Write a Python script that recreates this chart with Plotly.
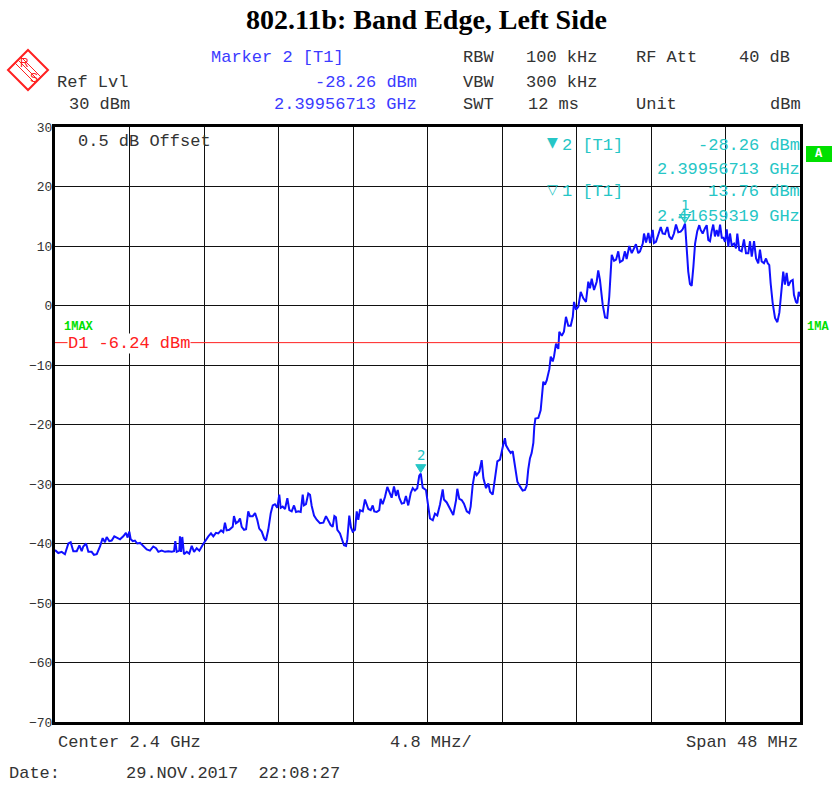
import plotly.graph_objects as go

# ---------------- data ----------------
center_ghz = 2.4
span_mhz = 48.0
ref_level = 30
y_min = -70
display_line_dbm = -6.24

marker2_offset_mhz = 23.567   # 2.39956713 GHz relative to 2.376 GHz start
marker2_level = -28.26
marker1_offset_mhz = 40.593   # 2.41659319 GHz
marker1_level = 13.76

freq_offset_mhz = [
    0.00, 0.21, 0.43, 0.64, 0.86, 1.01, 1.18, 1.40, 1.57, 1.72, 1.82, 2.00, 2.15, 2.36, 2.51, 2.69,
    2.90, 3.07, 3.22, 3.33, 3.50, 3.65, 3.82, 3.98, 4.19, 4.40, 4.57, 4.68, 4.79, 4.88, 5.01, 5.15,
    5.30, 5.48, 5.69, 5.91, 6.12, 6.33, 6.51, 6.66, 6.87, 7.09, 7.30, 7.52, 7.67, 7.75, 7.84, 8.01,
    8.05, 8.12, 8.20, 8.31, 8.49, 8.65, 8.81, 8.96, 9.13, 9.30, 9.52, 9.66, 9.88, 10.05, 10.20, 10.37,
    10.52, 10.70, 10.84, 10.95, 11.06, 11.23, 11.45, 11.53, 11.66, 11.81,
    11.92, 12.03, 12.18, 12.31, 12.45, 12.56, 12.74, 12.89, 13.03, 13.16, 13.32, 13.47, 13.59, 13.74,
    13.90, 14.03, 14.17, 14.32, 14.45, 14.54, 14.67, 14.82, 14.97, 15.10, 15.25, 15.40, 15.53, 15.68,
    15.83, 15.96, 16.04, 16.17, 16.32, 16.43, 16.54, 16.69, 16.86, 17.07, 17.29, 17.46, 17.61, 17.76,
    17.89, 18.00, 18.10, 18.19, 18.36, 18.49, 18.62, 18.75, 18.83, 18.96, 19.07, 19.18, 19.33, 19.44,
    19.54, 19.65, 19.83, 19.97, 20.08, 20.19, 20.34, 20.47, 20.57, 20.73, 20.89, 20.98, 21.11, 21.26,
    21.41, 21.54, 21.69, 21.84, 21.97, 22.08, 22.18, 22.34, 22.49, 22.61, 22.76, 22.92, 23.05, 23.19,
    23.34, 23.47, 23.567, 23.69, 23.90, 24.05, 24.16, 24.34, 24.48, 24.63, 24.81, 24.98, 25.06, 25.24,
    25.40, 25.56, 25.66, 25.84, 25.92, 26.05, 26.20, 26.35, 26.53, 26.69, 26.78, 26.91, 27.06, 27.17,
    27.34, 27.49, 27.60, 27.77, 27.92, 28.03, 28.20, 28.35, 28.50, 28.67, 28.78, 28.88, 28.99, 29.06,
    29.21, 29.36, 29.49, 29.64, 29.79, 29.96, 30.13, 30.28, 30.39, 30.49, 30.60, 30.71, 30.82, 30.88,
    30.95, 31.14, 31.29, 31.46, 31.57, 31.68, 31.85, 31.94, 32.07, 32.15, 32.28, 32.43, 32.49, 32.65,
    32.79, 32.92, 33.07, 33.23, 33.36, 33.44, 33.57, 33.72, 33.87, 34.04, 34.21, 34.36, 34.47, 34.58,
    34.73, 34.90, 35.00, 35.11, 35.29, 35.44, 35.58, 35.71, 35.87, 36.02, 36.15, 36.29, 36.40, 36.58,
    36.72, 36.83, 37.00, 37.16, 37.26, 37.43, 37.58, 37.69, 37.87, 37.95, 38.08, 38.23, 38.34, 38.51,
    38.59, 38.72, 38.87, 39.03, 39.15, 39.30, 39.45, 39.58, 39.73, 39.88, 40.01, 40.16, 40.31, 40.44,
    40.593, 40.70, 40.80, 40.91, 41.02, 41.13, 41.24, 41.38, 41.51, 41.60, 41.73, 41.88, 41.99, 42.09,
    42.20, 42.31, 42.41, 42.52, 42.63, 42.74, 42.85, 42.96, 43.06, 43.17, 43.28, 43.38, 43.49, 43.60,
    43.75, 43.88, 43.96, 44.09, 44.24, 44.39, 44.52, 44.67, 44.78, 44.89, 45.04, 45.17, 45.31, 45.42,
    45.53, 45.68, 45.81, 45.92, 46.02, 46.11, 46.24, 46.39, 46.54, 46.67, 46.82, 46.92, 47.03, 47.14,
    47.25, 47.40, 47.53, 47.61, 47.74, 47.83, 47.92, 48.00,
]

level_dbm = [
    -41.1, -41.6, -41.4, -41.8, -40.0, -39.8, -41.3, -41.3, -40.3, -41.3, -40.5, -40.0, -41.4, -41.4, -41.9, -41.8,
    -40.5, -39.1, -39.8, -38.9, -39.6, -39.5, -38.8, -39.0, -39.3, -38.8, -38.2, -39.0, -38.0, -39.3, -39.6, -39.5,
    -40.0, -39.9, -40.5, -41.0, -41.2, -40.5, -40.8, -41.4, -41.2, -41.4, -41.3, -41.4, -41.3, -39.6, -41.4, -41.2,
    -38.8, -41.4, -38.9, -41.8, -41.4, -41.7, -40.4, -41.4, -40.8, -41.2, -40.2, -39.6, -38.8, -38.3, -38.8, -38.2,
    -38.3, -37.8, -38.1, -36.5, -37.8, -37.7, -37.2, -35.4, -36.6, -36.3,
    -35.8, -37.2, -37.7, -37.6, -34.6, -35.4, -35.4, -34.9, -36.0, -37.5, -38.0, -39.1, -39.5, -37.7,
    -34.9, -33.6, -33.4, -34.0, -31.8, -34.0, -33.8, -34.2, -32.4, -34.4, -34.6, -33.6, -34.7, -34.6,
    -34.7, -31.8, -33.6, -33.4, -31.6, -31.8, -33.7, -35.3, -36.0, -36.6, -36.5, -35.4, -36.3, -36.9,
    -37.2, -35.4, -35.6, -37.7, -38.3, -39.4, -40.3, -40.4, -39.4, -35.3, -37.3, -38.0, -37.7, -34.6,
    -36.0, -34.4, -34.6, -32.6, -33.6, -34.2, -34.4, -33.6, -34.6, -34.7, -34.4, -32.5, -33.4, -32.2,
    -30.5, -31.5, -32.3, -30.4, -32.0, -31.0, -32.3, -33.3, -33.2, -32.0, -33.6, -31.5, -30.7, -31.1,
    -30.7, -28.6, -28.26, -30.6, -31.0, -33.8, -35.8, -36.1, -35.0, -35.3, -33.4, -30.9, -32.6, -33.1,
    -33.9, -34.9, -35.2, -32.7, -30.8, -32.5, -32.7, -33.3, -34.6, -34.9, -33.8, -30.2, -27.9, -28.5,
    -27.9, -26.0, -29.0, -30.7, -29.9, -31.3, -31.8, -29.0, -26.2, -25.9, -24.2, -23.4, -22.3, -23.5,
    -24.2, -24.8, -24.5, -27.1, -29.6, -30.4, -31.1, -31.0, -30.3, -27.6, -25.7, -24.8, -23.1, -20.4,
    -19.0, -18.9, -17.6, -12.8, -13.3, -12.6, -10.7, -8.6, -9.4, -8.6, -6.4, -7.3, -4.4, -5.1,
    -4.4, -1.9, -3.4, -3.4, -1.9, 0.6, -0.7, -0.2, 2.3, 1.2, 0.6, 4.0, 2.9, 4.5,
    2.6, 4.0, 5.9, 4.3, 0.1, -2.0, -2.1, 1.5, 8.5, 7.5, 7.7, 9.1, 7.3, 7.6,
    9.1, 7.8, 10.0, 8.8, 9.3, 10.3, 8.8, 9.1, 10.4, 12.1, 10.6, 12.2, 10.5, 12.7,
    10.5, 10.7, 11.9, 13.2, 12.1, 12.0, 13.2, 11.6, 11.1, 12.1, 13.6, 12.3, 12.4, 12.8,
    13.76, 8.8, 5.7, 3.6, 3.3, 6.5, 10.4, 12.5, 13.5, 12.7, 12.1, 13.0, 13.5, 11.0,
    10.8, 12.5, 13.6, 11.6, 12.7, 11.6, 13.6, 11.4, 11.4, 10.7, 12.8, 9.9, 12.1, 10.1,
    10.4, 9.6, 12.1, 9.3, 9.1, 11.1, 8.8, 8.8, 10.8, 8.2, 10.8, 7.9, 7.1, 9.4,
    7.4, 7.1, 7.9, 7.1, 6.8, 3.7, 0.4, -2.1, -2.8, -1.2, 3.0, 5.7, 3.5, 5.5,
    3.3, 4.1, 4.3, 1.8, 0.6, 0.4, 2.3, 1.5,
]

# ---------------- layout helpers ----------------
W, H = 833, 785
L, R, T, B = 55, 800, 127, 722


def fx(px):
    return (px - L) / (R - L)


def fy(py):
    return (B - py) / (B - T)


MONO = "Liberation Mono, Courier New, monospace"
DARK = "#333333"
BLUE = "#3b3bff"
CYAN = "#26c6c6"
GREEN = "#00e000"
FS = 17

fig = go.Figure()

fig.add_trace(go.Scatter(
    x=freq_offset_mhz, y=level_dbm, mode="lines",
    line=dict(color="#1010ff", width=2),
    hoverinfo="skip", showlegend=False,
))

# display line D1
fig.add_shape(type="line", xref="x", yref="y", x0=0, x1=span_mhz,
              y0=display_line_dbm, y1=display_line_dbm,
              line=dict(color="#ff2020", width=1))

ann = []


def text(px, py, s, color=DARK, size=FS, anchor="left", bold=False, bg=None, family=MONO):
    if bold:
        s = "<b>" + s + "</b>"
    d = dict(xref="paper", yref="paper", x=fx(px), y=fy(py), text=s, showarrow=False,
             xanchor=anchor, yanchor="middle", font=dict(family=family, size=size, color=color))
    if bg:
        d["bgcolor"] = bg
        d["borderpad"] = 0
    ann.append(d)


# Title
ann.append(dict(xref="paper", yref="paper", x=fx(426), y=fy(20), text="<b>802.11b: Band Edge, Left Side</b>",
                showarrow=False, xanchor="center", yanchor="middle",
                font=dict(family="Liberation Serif, Times New Roman, serif", size=28, color="#000")))

# Header
text(209, 58, "Marker 2 [T1]", BLUE)
text(419, 82, f"{marker2_level:.2f} dBm", BLUE, anchor="right")
text(419, 105, "2.39956713 GHz", BLUE, anchor="right")
text(55, 82, "Ref Lvl")
text(67, 105, f"{ref_level} dBm")
text(461, 58, "RBW")
text(461, 82, "VBW")
text(461, 105, "SWT")
text(524, 58, "100 kHz")
text(524, 82, "300 kHz")
text(581, 105, "12 ms", anchor="right")
text(634, 58, "RF Att")
text(634, 105, "Unit")
text(792, 58, "40 dB", anchor="right")
text(803, 105, "dBm", anchor="right")

# Inside plot texts
text(76, 141, "0.5 dB Offset")
text(62, 327, "1MAX", GREEN, size=12, bold=True)
text(67, 343, f"D1 {display_line_dbm:.2f} dBm", "#ff2020", bg="white")
text(545, 142, "▼", CYAN, size=14, family="DejaVu Sans")
text(560, 145, "2 [T1]", CYAN)
text(802, 145, f"{marker2_level:.2f} dBm", CYAN, anchor="right")
text(802, 169, "2.39956713 GHz", CYAN, anchor="right")
text(545, 189, "▽", CYAN, size=14, family="DejaVu Sans")
text(560, 192, "1 [T1]", CYAN)
text(802, 192, f"{marker1_level:.2f} dBm", CYAN, anchor="right")
text(802, 216, "2.41659319 GHz", CYAN, anchor="right")

# Right side
text(805, 327, "1MA", GREEN, size=12, bold=True)
fig.add_shape(type="rect", xref="paper", yref="paper", x0=fx(806), x1=fx(832), y0=fy(162), y1=fy(146),
              fillcolor=GREEN, line=dict(width=0))
text(819, 154, "A", "white", size=12, anchor="center", bold=True)

# Bottom
text(56, 742, f"Center {center_ghz} GHz")
text(388, 742, f"{span_mhz / 10:.1f} MHz/")
text(800, 742, f"Span {span_mhz:.0f} MHz", anchor="right")
text(7, 773, "Date:")
text(124, 773, "29.NOV.2017  22:08:27")

# Marker triangles on the trace (pixel-sized shapes anchored at marker data points)
tri = "M -5 9 L 5 9 L 0 1 Z"
fig.add_shape(type="path", xref="x", yref="y", xsizemode="pixel", ysizemode="pixel",
              xanchor=marker2_offset_mhz, yanchor=marker2_level, path=tri,
              fillcolor=CYAN, line=dict(color=CYAN, width=1))
fig.add_shape(type="path", xref="x", yref="y", xsizemode="pixel", ysizemode="pixel",
              xanchor=marker1_offset_mhz, yanchor=marker1_level, path=tri,
              fillcolor="rgba(0,0,0,0)", line=dict(color=CYAN, width=1.5))
ann.append(dict(xref="x", yref="y", x=marker2_offset_mhz, y=marker2_level, text="2", showarrow=False,
                xanchor="center", yanchor="bottom", yshift=9,
                font=dict(family="DejaVu Sans Mono", size=14, color=CYAN)))
ann.append(dict(xref="x", yref="y", x=marker1_offset_mhz, y=marker1_level, text="1", showarrow=False,
                xanchor="center", yanchor="bottom", yshift=9,
                font=dict(family="DejaVu Sans Mono", size=14, color=CYAN)))

# R&S logo
cx, cy, hw = 28, 70, 20
diamond = (f"M {fx(cx)} {fy(cy - hw)} L {fx(cx + hw)} {fy(cy)} L {fx(cx)} {fy(cy + hw)} "
           f"L {fx(cx - hw)} {fy(cy)} Z")
fig.add_shape(type="path", xref="paper", yref="paper", path=diamond, line=dict(color="#ff2020", width=2))
for d in (-3, 0, 3):
    fig.add_shape(type="line", xref="paper", yref="paper",
                  x0=fx(cx - 10 + d), y0=fy(cy - 10 - d), x1=fx(cx + 10 + d), y1=fy(cy + 10 - d),
                  line=dict(color="#ff2020", width=1))
text(24, 63, "R", "#ff2020", size=12, anchor="center", family="Liberation Sans")
text(34, 78, "S", "#ff2020", size=12, anchor="center", family="Liberation Sans")

fig.update_layout(
    width=W, height=H,
    margin=dict(l=L, r=W - R, t=T, b=H - B, pad=0),
    paper_bgcolor="white", plot_bgcolor="white",
    showlegend=False,
    annotations=ann,
    xaxis=dict(range=[0, span_mhz], tick0=0, dtick=span_mhz / 10, showgrid=True,
               gridcolor="#111111", gridwidth=1, showticklabels=False, ticks="",
               showline=True, linecolor="black", linewidth=3, mirror=True, zeroline=False,
               fixedrange=True),
    yaxis=dict(range=[y_min, ref_level], tick0=0, dtick=10, showgrid=True,
               gridcolor="#111111", gridwidth=1, ticks="", ticklabelstandoff=-3,
               tickfont=dict(family=MONO, size=13, color=DARK),
               showline=True, linecolor="black", linewidth=3, mirror=True, zeroline=False,
               fixedrange=True),
)

fig.write_html("out.html", config={"displayModeBar": False},
               post_script="document.body.style.margin='0';document.body.style.overflow='hidden';")
